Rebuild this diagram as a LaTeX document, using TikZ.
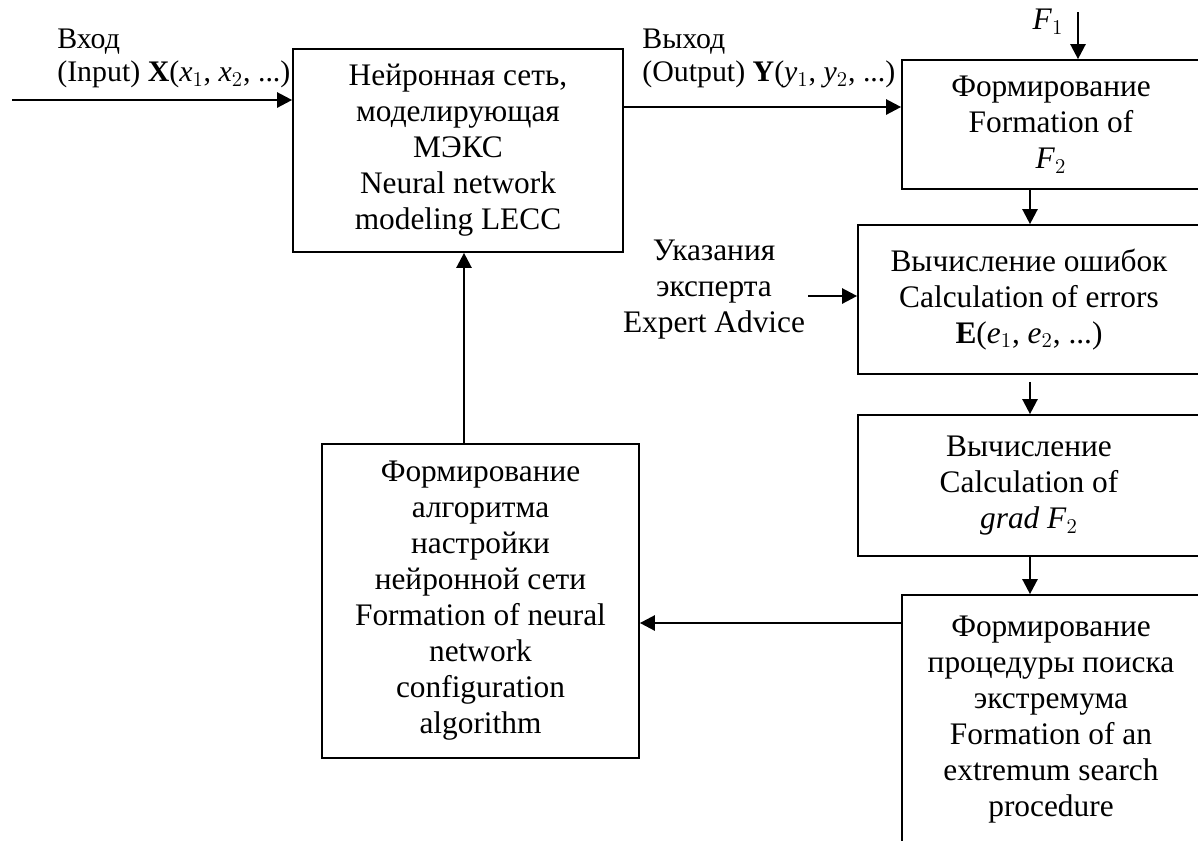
\documentclass[tikz,border=0pt]{standalone}
\usepackage{fontspec}
\setmainfont{Liberation Serif}
\usetikzlibrary{arrows.meta}

\tikzset{
  block/.style={draw, line width=1pt, inner sep=0pt, align=center},
  lbl/.style={inner sep=0pt, align=left},
  arr/.style={line width=1.4pt, -{Triangle[length=0.3cm, width=0.3cm]}}
}
\newcommand{\vn}[1]{\textit{#1}}

\begin{document}
\begin{tikzpicture}[x=0.02cm, y=-0.02cm,
  font=\fontsize{17.85}{20.5}\selectfont]
  \useasboundingbox (0,0) rectangle (1198,840);
  \clip (0,0) rectangle (1198,840);
  % blocks
  \node[block, minimum width=6.6cm, minimum height=4.06cm] (nnet) at (458,150.5)
    {Нейронная сеть,\\моделирующая\\МЭКС\\Neural network\\modeling LECC};
  \node[block, minimum width=5.96cm, minimum height=2.58cm] (formf) at (1051,124.5)
    {Формирование\\Formation of\\\vn{F}$_2$};
  \node[block, minimum width=6.84cm, minimum height=2.98cm] (errs) at (1029,299.5)
    {Вычисление ошибок\\Calculation of errors\\\textbf{E}(\vn{e}$_1$, \vn{e}$_2$, ...)};
  \node[block, minimum width=6.84cm, minimum height=2.82cm] (grad) at (1029,485.5)
    {Вычисление\\Calculation of\\\vn{grad F}$_2$};
  \node[block, minimum width=5.96cm, minimum height=5cm] (extr) at (1051,720)
    {Формирование\\процедуры поиска\\экстремума\\Formation of an\\extremum search\\procedure};
  \node[block, minimum width=6.34cm, minimum height=6.28cm] (tune) at (480.5,601)
    {Формирование\\алгоритма\\настройки\\нейронной сети\\Formation of neural\\network\\configuration\\algorithm};
  % labels
  \node[lbl, anchor=west, font=\fontsize{17}{18.8}\selectfont] (inlbl) at (57,58.5)
    {Вход\\(Input) \textbf{X}(\vn{x}$_1$, \vn{x}$_2$, ...)};
  \node[lbl, anchor=west, font=\fontsize{17}{18.8}\selectfont] (outlbl) at (642,58.5)
    {Выход\\(Output) \textbf{Y}(\vn{y}$_1$, \vn{y}$_2$, ...)};
  \node[lbl] (f1) at (1048,22) {\vn{F}$_1$};
  \node[lbl, align=center] (expert) at (714,290) {Указания\\эксперта\\Expert Advice};
  % free ends
  \coordinate (instart) at (12,100);
  \coordinate (f1start) at (1078,12);
  \coordinate (exstart) at (808,296);
  \coordinate (downx) at (1030,0);
  \coordinate (upx) at (464,0);
  % connectors
  \draw[arr] (instart) -- (instart -| nnet.west);
  \draw[arr] (nnet.east |- 0,107) -- (formf.west |- 0,107);
  \draw[arr] (f1start) -- (f1start |- formf.north);
  \draw[arr] (formf.south -| downx) -- (errs.north -| downx);
  \draw[arr] (exstart) -- (exstart -| errs.west);
  \draw[arr, shorten <=4pt] (errs.south -| downx) -- (grad.north -| downx);
  \draw[arr] (grad.south -| downx) -- (extr.north -| downx);
  \draw[arr] (extr.west |- 0,623) -- (tune.east |- 0,623);
  \draw[arr] (tune.north -| upx) -- (nnet.south -| upx);
\end{tikzpicture}
\end{document}
